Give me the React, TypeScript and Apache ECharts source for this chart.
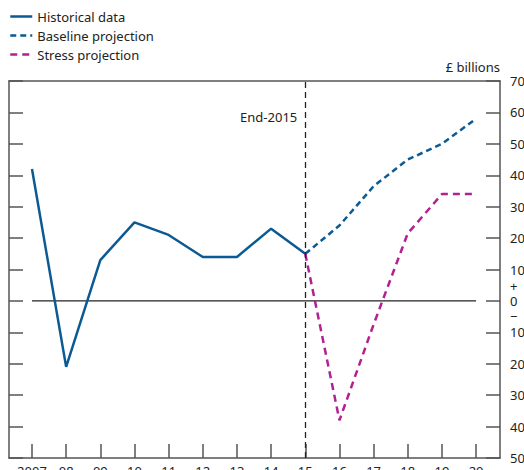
import React, { useEffect, useRef } from "react";
import * as echarts from "echarts";

const years = [2007, 2008, 2009, 2010, 2011, 2012, 2013, 2014, 2015, 2016, 2017, 2018, 2019, 2020];
const historicalYears = [2007, 2008, 2009, 2010, 2011, 2012, 2013, 2014, 2015];
const historicalValues = [42, -21, 13, 25, 21, 14, 14, 23, 15];
const projectionYears = [2015, 2016, 2017, 2018, 2019, 2020];
const baselineValues = [15, 24, 36.5, 45, 50, 58];
const stressValues = [15, -38, -7.5, 21.5, 34, 34];

const FONT = "'Noto Sans', 'Open Sans', sans-serif";
const BLUE = "#0b5a93";
const MAGENTA = "#b3208f";
const AXIS = "#555555";

export default function App() {
  const ref = useRef<HTMLDivElement>(null);
  useEffect(() => {
    if (!ref.current) return;
    const chart = echarts.init(ref.current, null, { renderer: "svg" });
    const pair = (xs: number[], ys: number[]) => xs.map((x, i) => [x, ys[i]]);
    const xAxisBase = {
      type: "value" as const,
      min: 2006.327,
      max: 2020.7,
      splitLine: { show: false },
      axisLine: { show: true, onZero: false, lineStyle: { color: AXIS, width: 1.5 } },
    };
    const yAxisBase = {
      type: "value" as const,
      min: -50,
      max: 70,
      interval: 10,
      splitLine: { show: false },
      axisLine: { show: true, onZero: false, lineStyle: { color: AXIS, width: 1.5 } },
      axisTick: { show: true, inside: true, length: 14, lineStyle: { color: AXIS, width: 1.5 } },
    };
    chart.setOption({
      animation: false,
      textStyle: { fontFamily: FONT },
      grid: { left: 9, right: 24, top: 81, bottom: 12, containLabel: false, outerBoundsMode: "none" },
      legend: {
        orient: "vertical",
        left: 9,
        top: 10,
        padding: 0,
        itemWidth: 22,
        itemHeight: 14,
        itemGap: 6,
        itemStyle: { opacity: 0 },
        lineStyle: { width: 2.5 },
        textStyle: { fontFamily: FONT, fontSize: 13, color: "#222" },
        data: ["Historical data", "Baseline projection", "Stress projection"],
      },
      xAxis: [
        {
          ...xAxisBase,
          position: "bottom",
          axisTick: {
            show: true,
            inside: true,
            length: 14,
            customValues: years,
            lineStyle: { color: AXIS, width: 1.5 },
          },
          axisLabel: {
            show: true,
            customValues: years,
            margin: 6,
            fontSize: 13,
            color: "#222",
            fontFamily: FONT,
            formatter: (v: number) => (v === 2007 ? "2007" : String(v).slice(2)),
          },
        },
        {
          ...xAxisBase,
          position: "top",
          axisTick: { show: false },
          axisLabel: { show: false },
        },
      ],
      yAxis: [
        {
          ...yAxisBase,
          position: "right",
          name: "£ billions",
          nameLocation: "end",
          nameGap: 8,
          nameTextStyle: { align: "right", fontSize: 13, color: "#222", fontFamily: FONT },
          axisLabel: {
            show: true,
            margin: 10,
            fontSize: 13,
            color: "#222",
            fontFamily: FONT,
            lineHeight: 15,
            formatter: (v: number) => (v === 0 ? "+\n0\n\u2212" : String(Math.abs(v))),
          },
        },
        {
          ...yAxisBase,
          position: "left",
          axisLabel: { show: false },
        },
      ],
      series: [
        {
          name: "zero",
          type: "line",
          data: [[2007, 0], [2020, 0]],
          symbol: "none",
          silent: true,
          lineStyle: { color: "#222", width: 1.2 },
          z: 1,
        },
        {
          name: "Historical data",
          type: "line",
          data: pair(historicalYears, historicalValues),
          symbol: "none",
          lineStyle: { color: BLUE, width: 2.5 },
          itemStyle: { color: BLUE },
          z: 3,
          markLine: {
            silent: true,
            symbol: "none",
            label: { show: false },
            lineStyle: { color: "#222", width: 1.3, type: [6, 4] },
            data: [{ xAxis: 2015 }],
          },
        },
        {
          name: "Baseline projection",
          type: "line",
          data: pair(projectionYears, baselineValues),
          symbol: "none",
          lineStyle: { color: BLUE, width: 2.5, type: [6, 4] },
          itemStyle: { color: BLUE },
          z: 3,
        },
        {
          name: "Stress projection",
          type: "line",
          data: pair(projectionYears, stressValues),
          symbol: "none",
          lineStyle: { color: MAGENTA, width: 2.5, type: [7, 5] },
          itemStyle: { color: MAGENTA },
          z: 4,
        },
      ],
    });
    const p = chart.convertToPixel({ xAxisIndex: 0, yAxisIndex: 0 }, [2015, 70]) as number[];
    chart.setOption({
      graphic: [
        {
          type: "text",
          x: p[0] - 8,
          y: p[1] + 36,
          style: {
            text: "End-2015",
            align: "right",
            verticalAlign: "middle",
            fontSize: 13,
            fontFamily: FONT,
            fill: "#222",
          },
        },
      ],
    });
    return () => chart.dispose();
  }, []);
  return <div ref={ref} style={{ position: "absolute", left: 0, top: 0, width: 524, height: 470 }} />;
}
